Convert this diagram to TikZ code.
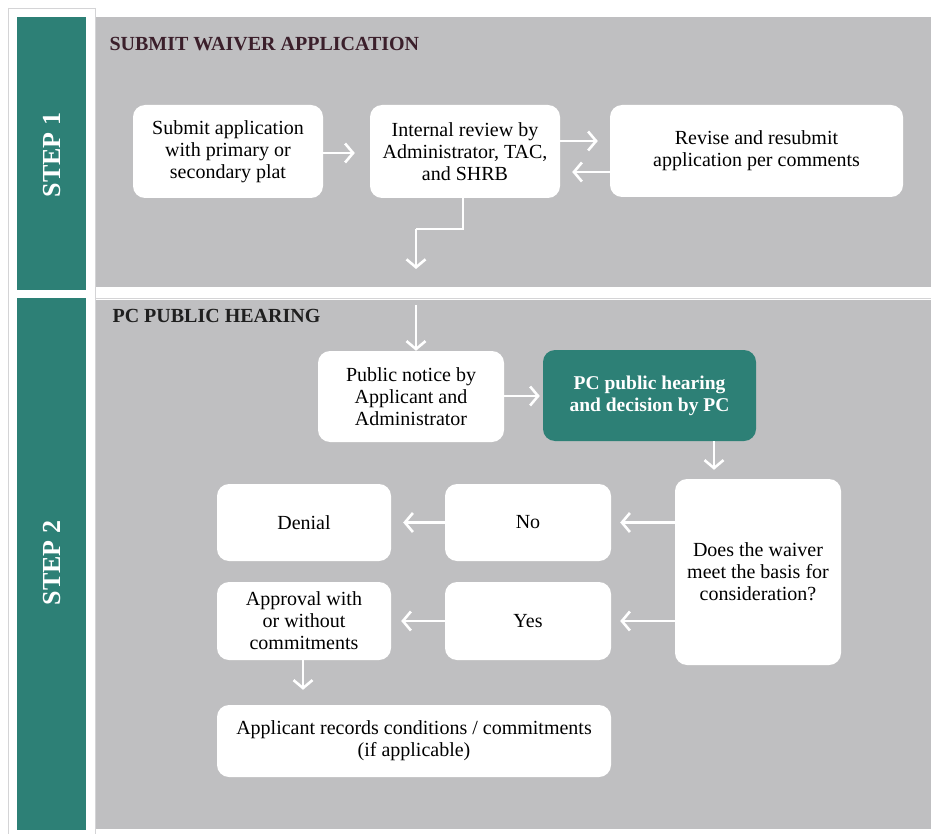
\documentclass[tikz,border=0pt]{standalone}
\usepackage{fontspec}
\setmainfont{Liberation Serif}
\usetikzlibrary{arrows.meta}
\definecolor{teal}{HTML}{2D8076}
\definecolor{panel}{HTML}{BFBFC1}
\definecolor{maroon}{HTML}{3B1F2B}
\definecolor{rule}{HTML}{D4D4D6}
\tikzset{
  bar/.style={fill=teal, draw=none},
  pane/.style={fill=panel, draw=none},
  steplabel/.style={text=white, font=\fontsize{26}{30}\selectfont\bfseries, rotate=90},
  heading/.style={anchor=west, font=\fontsize{20}{24}\selectfont\bfseries},
  box/.style={fill=white, draw=none, rounded corners=12pt, align=center,
    inner sep=0pt, font=\fontsize{20}{22}\selectfont},
  keybox/.style={box, fill=teal, text=white, font=\fontsize{19.5}{22}\selectfont\bfseries},
  flow/.style={draw=white, line width=2.6pt, -{Straight Barb[length=8pt,width=19pt]}},
  link/.style={draw=white, line width=2.6pt},
}
\begin{document}
\begin{tikzpicture}[x=1pt, y=-1pt]
\useasboundingbox (0,0) rectangle (931,834);
\fill[white] (0,0) rectangle (931,834);
% frame rules of the left column
\draw[rule, line width=0.8pt] (8,8) -- (8,834);
\draw[rule, line width=0.8pt] (95,8) -- (95,834);
\draw[rule, line width=0.8pt] (8,8) -- (95,8);
\draw[rule, line width=0.8pt] (96,298) -- (931,298);

% step bars
\fill[bar] (17,17) rectangle (86,290);
\fill[bar] (17,298) rectangle (86,830);
\node[steplabel] (s1) at (52,155) {STEP 1};
\node[steplabel] (s2) at (52,563) {STEP 2};

% grey panels
\fill[pane] (96,17) rectangle (931,287);
\fill[pane] (96,300) rectangle (931,829);
\node[heading, text=maroon] (h1) at (106,44) {SUBMIT WAIVER APPLICATION};
\node[heading, text=black!88] (h2) at (109,316) {PC PUBLIC HEARING};

% step 1 boxes
\node[box, minimum width=190pt, minimum height=93pt] (sub) at (228,151.5)
  {Submit application\\with primary or\\secondary plat};
\node[box, minimum width=190pt, minimum height=93pt] (int) at (465,151.5)
  {Internal review by\\Administrator, TAC,\\and SHRB};
\node[box, minimum width=293pt, minimum height=92pt] (rev) at (756.5,151)
  {Revise and resubmit\\application per comments};

% step 2 boxes
\node[box, minimum width=186pt, minimum height=91pt] (pn) at (411,396.5)
  {Public notice by\\Applicant and\\Administrator};
\node[keybox, minimum width=213pt, minimum height=91pt] (pc) at (649.5,395.5)
  {PC public hearing\\and decision by PC};
\node[box, minimum width=166pt, minimum height=186pt] (q) at (758,572)
  {Does the waiver\\meet the basis for\\consideration?};
\node[box, minimum width=166pt, minimum height=77pt] (no) at (528,522.5) {No};
\node[box, minimum width=174pt, minimum height=77pt] (den) at (304,522.5) {Denial};
\node[box, minimum width=166pt, minimum height=78pt] (yes) at (528,621) {Yes};
\node[box, minimum width=174pt, minimum height=78pt] (app) at (304,621)
  {Approval with\\or without\\commitments};
\node[box, minimum width=394pt, minimum height=72pt] (rec) at (414,741)
  {Applicant records conditions / commitments\\(if applicable)};

% step 1 connectors
\draw[flow, shorten >=15pt] (sub.east |- 0,153) -- (int.west |- 0,153);
\draw[flow, shorten >=12pt] (int.east |- 0,141) -- (rev.west |- 0,141);
\draw[flow, shorten >=12pt] (rev.west |- 0,172) -- (int.east |- 0,172);
\coordinate (bend) at (416,229);
\coordinate (out1) at (416,269);
\draw[link] ([xshift=-2pt]int.south) |- (bend);
\draw[flow] (bend) -- (out1);

% step 2 connectors
\coordinate (in2) at (416,305);
\draw[flow] (in2) -- (in2 |- pn.north);
\draw[flow, shorten >=3pt] (pn.east |- 0,396) -- (pc.west |- 0,396);
\draw[flow, shorten >=9pt] (pc.south -| 714,0) -- (q.north -| 714,0);
\draw[flow, shorten >=9pt] (q.west |- no) -- (no.east);
\draw[flow, shorten >=12pt] (no.west) -- (den.east);
\draw[flow, shorten >=9pt] (q.west |- yes) -- (yes.east);
\draw[flow, shorten >=10pt] (yes.west) -- (app.east);
\draw[flow, shorten >=15pt] (app.south -| 303,0) -- (rec.north -| 303,0);
\end{tikzpicture}
\end{document}
